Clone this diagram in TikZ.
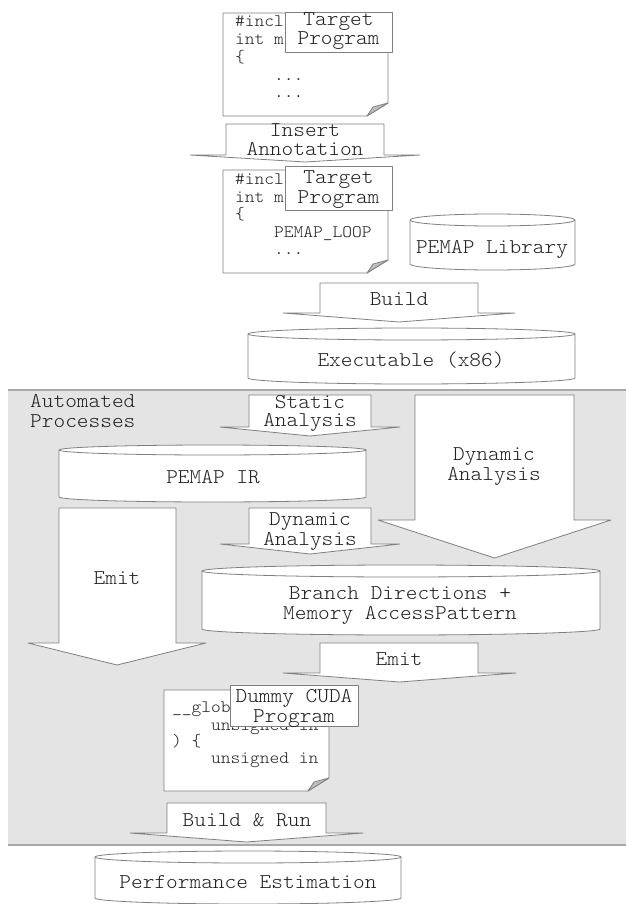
\documentclass[tikz,border=0pt]{standalone}
\usepackage{fontspec}
\newfontfamily\monofont[FakeStretch=1.06]{Latin Modern Mono Light}
\definecolor{edge}{HTML}{7F7F7F}
\definecolor{panel}{HTML}{E4E4E4}
\definecolor{panelline}{HTML}{A8A8A8}
\definecolor{foldgray}{HTML}{BFBFBF}
\definecolor{ink}{HTML}{202020}
\tikzset{
  shapeline/.style={draw=edge, fill=white, line width=0.8pt, line join=round},
  arrowtext/.style={font=\monofont\fontsize{21}{24}\selectfont, text=ink, inner sep=0pt, anchor=base},
  plaintext/.style={font=\monofont\fontsize{21}{24}\selectfont, text=ink, inner sep=0pt, anchor=base west},
  codeline/.style={font=\monofont\fontsize{17.5}{20}\selectfont, text=ink, inner sep=0pt, anchor=base west},
}
% block arrow pointing down: shaft x1 x2, top y1, wing y2, wing xl xr, tip y3
\newcommand\blockarrow[7]{%
  \filldraw[shapeline] (#1,#3) -- (#2,#3) -- (#2,#4) -- (#6,#4) -- ({(#5+#6)/2},#7)
    -- (#5,#4) -- (#1,#4) -- cycle;}
% drum (database cylinder): x1 x2 ytop ybottom ry
\newcommand\drum[5]{%
  \pgfmathsetmacro\drumrx{(#2-#1)/2}%
  \filldraw[shapeline] (#1,#3+#5) -- (#1,#4-#5)
    arc[start angle=180,end angle=360,x radius=\drumrx pt,y radius=#5 pt]
    -- (#2,#3+#5)
    arc[start angle=0,end angle=180,x radius=\drumrx pt,y radius=#5 pt] -- cycle;
  \draw[shapeline,fill=none] (#1,#3+#5)
    arc[start angle=180,end angle=360,x radius=\drumrx pt,y radius=#5 pt];}
% source page with folded corner: x1 x2 ytop ybottom
\newcommand\docpage[4]{%
  \filldraw[shapeline] (#1,#3) -- (#2,#3) -- (#2,#4-13) -- (#2-21,#4) -- (#1,#4) -- cycle;
  \filldraw[shapeline,fill=foldgray] (#2,#4-13) -- (#2-21,#4) -- (#2-15,#4-9) -- cycle;}

\begin{document}
\begin{tikzpicture}[x=1pt,y=-1pt]
\useasboundingbox (0,0) rectangle (626,904);

% shaded panel of the automated stages
\fill[panel] (8,390) rectangle (626,845);
\draw[panelline,line width=1.5pt] (8,390) -- (626,390);
\draw[panelline,line width=2pt] (8,845) -- (626,845);

% original source
\docpage{223}{388}{13}{116}
\node[codeline] (s1a) at (235,27) {\#incl};
\node[codeline] (s1b) at (235,45) {int m};
\node[codeline] (s1c) at (235,63) {\{};
\node[codeline] (s1d) at (274,81) {...};
\node[codeline] (s1e) at (274,98) {...};
\filldraw[shapeline] (285,12) rectangle (392,52);
\node[arrowtext] (t1a) at (338.5,26) {Target};
\node[arrowtext] (t1b) at (338.5,45) {Program};

\blockarrow{226}{384}{124}{155}{190}{420}{162}
\node[arrowtext] (ins1) at (305,137) {Insert};
\node[arrowtext] (ins2) at (305,156) {Annotation};

% annotated source
\docpage{223}{388}{170}{273}
\node[codeline] (s2a) at (235,185) {\#incl};
\node[codeline] (s2b) at (235,202) {int m};
\node[codeline] (s2c) at (235,219.5) {\{};
\node[codeline] (s2d) at (274,237) {PEMAP\_LOOP};
\node[codeline] (s2e) at (274,254) {...};
\filldraw[shapeline] (285,166) rectangle (392,210);
\node[arrowtext] (t2a) at (338.5,183) {Target};
\node[arrowtext] (t2b) at (338.5,203) {Program};

\drum{410}{575}{214}{270}{6}
\node[arrowtext] (lib) at (492,253) {PEMAP Library};

\blockarrow{320}{478}{283}{313}{283}{515}{322}
\node[arrowtext] (build) at (399,305) {Build};

\drum{248}{575}{328}{384}{6}
\node[arrowtext] (exe) at (411,366) {Executable (x86)};

% automated stages
\node[plaintext] (auto1) at (30,407) {Automated};
\node[plaintext] (auto2) at (30,427) {Processes};

\blockarrow{249}{371}{395}{427}{220}{400}{436}
\node[arrowtext] (sa1) at (310,408) {Static};
\node[arrowtext] (sa2) at (310,426) {Analysis};

\blockarrow{415}{574}{395}{520}{378}{611}{558}
\node[arrowtext] (da1) at (494,460) {Dynamic};
\node[arrowtext] (da2) at (494,480) {Analysis};

\drum{59}{366}{445}{502}{5}
\node[arrowtext] (ir) at (213,483) {PEMAP IR};

\blockarrow{59}{176}{508}{643}{28}{206}{665}
\node[arrowtext] (emit1) at (117,584) {Emit};

\blockarrow{249}{371}{508}{544}{220}{400}{554}
\node[arrowtext] (db1) at (310,525) {Dynamic};
\node[arrowtext] (db2) at (310,545) {Analysis};

\drum{202}{600}{565}{635}{6}
\node[arrowtext] (bd1) at (400,599) {Branch Directions +};
\node[arrowtext] (bd2) at (400,619) {Memory AccessPattern};

\blockarrow{320}{478}{643}{673}{283}{516}{682}
\node[arrowtext] (emit2) at (399,665) {Emit};

% generated CUDA source
\docpage{164}{329}{690}{791}
\node[codeline] (s3a) at (172,712) {\_\_glob};
\node[codeline] (s3b) at (211,730) {unsigned in};
\node[codeline] (s3c) at (172,746) {) \{};
\node[codeline] (s3d) at (211,763) {unsigned in};
\filldraw[shapeline] (230,685) rectangle (358,726);
\node[arrowtext] (t3a) at (294,702) {Dummy CUDA};
\node[arrowtext] (t3b) at (294,722) {Program};

\blockarrow{167}{326}{803}{833}{130}{363}{842}
\node[arrowtext] (run) at (247,826) {Build \& Run};

% result
\drum{95}{401}{851}{904}{6}
\node[arrowtext] (perf) at (248,888) {Performance Estimation};
\end{tikzpicture}
\end{document}
